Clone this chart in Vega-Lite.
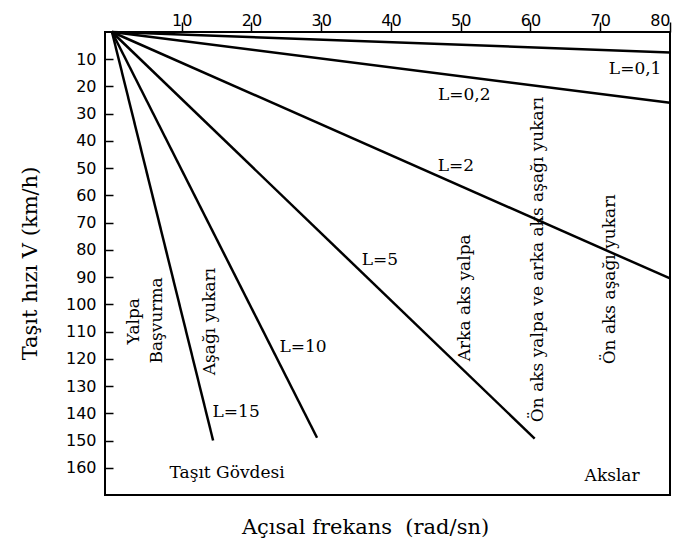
{
  "$schema": "https://vega.github.io/schema/vega-lite/v6.json",
  "width": 565,
  "height": 463,
  "autosize": {"type": "none"},
  "padding": {"left": 105, "top": 32, "right": 16, "bottom": 52},
  "background": "white",
  "config": {
    "view": {"stroke": "black", "strokeWidth": 2},
    "axis": {"grid": false, "domain": false, "tickColor": "black", "tickWidth": 1.5, "labelColor": "black", "labelFont": "DejaVu Sans", "labelFontSize": 16, "labelOverlap": false, "titleFont": "DejaVu Serif", "titleFontSize": 21, "titleFontWeight": "normal", "titleColor": "black"}
  },
  "datasets": {
    "lines": [
      {"L": "0,1", "omega": 0, "V": 0}, {"L": "0,1", "omega": 80, "V": 7.5},
      {"L": "0,2", "omega": 0, "V": 0}, {"L": "0,2", "omega": 80, "V": 26},
      {"L": "2", "omega": 0, "V": 0}, {"L": "2", "omega": 80, "V": 90.5},
      {"L": "5", "omega": 0, "V": 0}, {"L": "5", "omega": 60.6, "V": 149.3},
      {"L": "10", "omega": 0, "V": 0}, {"L": "10", "omega": 29.4, "V": 149},
      {"L": "15", "omega": 0, "V": 0}, {"L": "15", "omega": 14.5, "V": 150}
    ],
    "hlabels": [
      {"label": "L=0,1", "omega": 75.0, "V": 13.6},
      {"label": "L=0,2", "omega": 50.5, "V": 23},
      {"label": "L=2", "omega": 49.3, "V": 49.3},
      {"label": "L=5", "omega": 38.4, "V": 83.8},
      {"label": "L=10", "omega": 27.4, "V": 115.8},
      {"label": "L=15", "omega": 17.8, "V": 139.7},
      {"label": "Taşıt Gövdesi", "omega": 16.5, "V": 162},
      {"label": "Akslar", "omega": 71.7, "V": 163}
    ],
    "vlabels": [
      {"label": "Yalpa", "omega": 3.2, "V": 106.2},
      {"label": "Başvurma", "omega": 6.45, "V": 105.9},
      {"label": "Aşağı yukarı", "omega": 14.05, "V": 106.3},
      {"label": "Arka aks yalpa", "omega": 50.6, "V": 97.6},
      {"label": "Ön aks yalpa ve arka aks aşağı yukarı", "omega": 61.1, "V": 83.5},
      {"label": "Ön aks aşağı yukarı", "omega": 71.4, "V": 90.8}
    ]
  },
  "layer": [
    {
      "data": {"name": "lines"},
      "mark": {"type": "line", "color": "black", "strokeWidth": 2.5},
      "encoding": {
        "x": {
          "field": "omega", "type": "quantitative",
          "scale": {"domain": [-1, 80], "nice": false, "zero": false},
          "axis": {"orient": "top", "values": [10, 20, 30, 40, 50, 60, 70, 80], "tickCount": 20, "tickSize": 10, "labelPadding": -6, "labelAngle": 0, "labelOverlap": false,
                   "title": "Açısal frekans \u00a0(rad/sn)", "titleX": 260, "titleY": 495, "titleAngle": 0, "titleAlign": "center", "titleBaseline": "middle"}
        },
        "y": {
          "field": "V", "type": "quantitative",
          "scale": {"domain": [0, 170], "reverse": true, "nice": false, "zero": false},
          "axis": {"orient": "left", "offset": -8, "values": [10, 20, 30, 40, 50, 60, 70, 80, 90, 100, 110, 120, 130, 140, 150, 160], "tickCount": 20, "tickSize": 8, "labelPadding": 9, "labelOverlap": false,
                   "title": "Taşıt hızı V (km/h)", "titleX": -83, "titleY": 231, "titleAngle": 270, "titleAlign": "center", "titleBaseline": "middle"}
        },
        "detail": {"field": "L"}
      }
    },
    {
      "data": {"name": "hlabels"},
      "mark": {"type": "text", "font": "DejaVu Serif", "fontSize": 17, "color": "black", "align": "center", "baseline": "middle"},
      "encoding": {
        "x": {"field": "omega", "type": "quantitative"},
        "y": {"field": "V", "type": "quantitative"},
        "text": {"field": "label"}
      }
    },
    {
      "data": {"name": "vlabels"},
      "mark": {"type": "text", "font": "DejaVu Serif", "fontSize": 17, "color": "black", "align": "center", "baseline": "middle", "angle": 270},
      "encoding": {
        "x": {"field": "omega", "type": "quantitative"},
        "y": {"field": "V", "type": "quantitative"},
        "text": {"field": "label"}
      }
    }
  ]
}
